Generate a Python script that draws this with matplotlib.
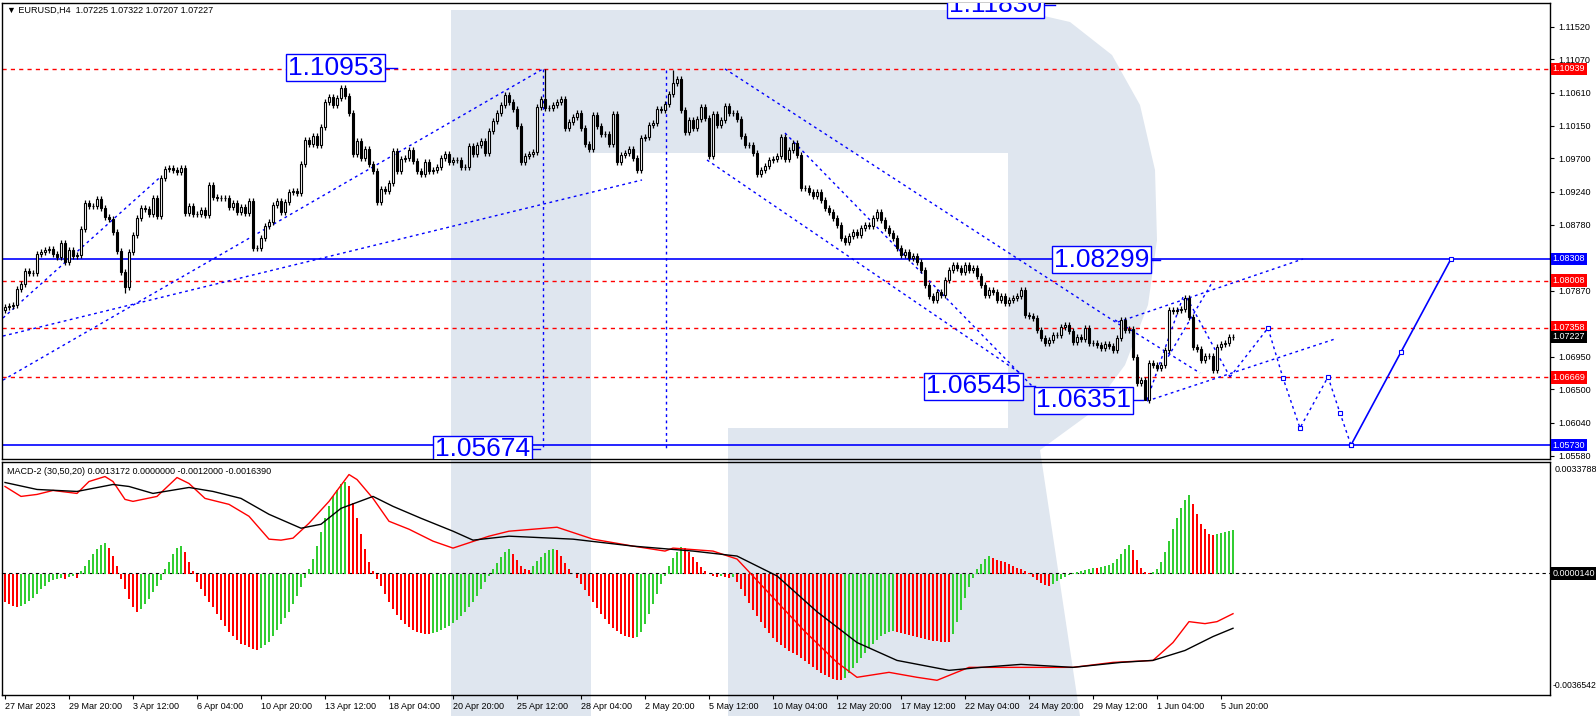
import matplotlib
matplotlib.use("Agg")
import matplotlib.pyplot as plt
from matplotlib.patches import Polygon
import numpy as np

plt.rcParams['font.family'] = ['Liberation Sans', 'DejaVu Sans']

W, H = 1596, 716

header = "\u25bc EURUSD,H4  1.07225 1.07322 1.07207 1.07227"
macd_title = "MACD-2 (30,50,20) 0.0013172 0.0000000 -0.0012000 -0.0016390"

# H4 closes
closes = [
    1.07642, 1.07656, 1.07670, 1.07891, 1.07961, 1.08141, 1.08113, 1.08113, 1.08376, 1.08404,
    1.08432, 1.08445, 1.08376, 1.08335, 1.08528, 1.08265, 1.08432, 1.08348, 1.08362, 1.08722,
    1.09082, 1.09041, 1.09041, 1.09138, 1.09013, 1.08889, 1.08861, 1.08681, 1.08418, 1.08127,
    1.07919, 1.08404, 1.08639, 1.08875, 1.09013, 1.08999, 1.08930, 1.09152, 1.08902, 1.09429,
    1.09553, 1.09567, 1.09540, 1.09512, 1.09567, 1.08944, 1.09041, 1.08930, 1.08930, 1.08986,
    1.08916, 1.09332, 1.09166, 1.09152, 1.09152, 1.09152, 1.09027, 1.09082, 1.08958, 1.09027,
    1.08944, 1.09110, 1.08459, 1.08459, 1.08598, 1.08764, 1.08819, 1.09055, 1.09110, 1.08958,
    1.09096, 1.09235, 1.09249, 1.09221, 1.09623, 1.09955, 1.09900, 1.10010, 1.09886, 1.10135,
    1.10481, 1.10551, 1.10440, 1.10537, 1.10675, 1.10564, 1.10329, 1.09761, 1.09941, 1.09706,
    1.09830, 1.09623, 1.09526, 1.09096, 1.09276, 1.09249, 1.09359, 1.09803, 1.09526, 1.09692,
    1.09706, 1.09817, 1.09664, 1.09526, 1.09484, 1.09650, 1.09526, 1.09540, 1.09581, 1.09706,
    1.09761, 1.09650, 1.09678, 1.09678, 1.09581, 1.09581, 1.09872, 1.09761, 1.09886, 1.09941,
    1.09775, 1.10080, 1.10218, 1.10329, 1.10440, 1.10578, 1.10481, 1.10384, 1.10149, 1.09650,
    1.09733, 1.09761, 1.09789, 1.10412, 1.10523, 1.10398, 1.10398, 1.10440, 1.10481, 1.10523,
    1.10121, 1.10204, 1.10274, 1.10329, 1.10121, 1.09900, 1.09830, 1.10301, 1.10149, 1.10038,
    1.10038, 1.09900, 1.10315, 1.09650, 1.09747, 1.09775, 1.09830, 1.09706, 1.09540, 1.09983,
    1.09997, 1.10163, 1.10190, 1.10384, 1.10371, 1.10454, 1.10592, 1.10744, 1.10800, 1.10371,
    1.10066, 1.10232, 1.10121, 1.10246, 1.10412, 1.10260, 1.09733, 1.10315, 1.10163, 1.10232,
    1.10426, 1.10329, 1.10329, 1.10246, 1.10010, 1.09886, 1.09886, 1.09775, 1.09484, 1.09540,
    1.09595, 1.09678, 1.09692, 1.09733, 1.09997, 1.09692, 1.09817, 1.09913, 1.09747, 1.09290,
    1.09290, 1.09235, 1.09179, 1.09235, 1.09124, 1.09013, 1.08958, 1.08875, 1.08778, 1.08598,
    1.08542, 1.08625, 1.08681, 1.08639, 1.08736, 1.08778, 1.08764, 1.08875, 1.08958, 1.08847,
    1.08736, 1.08667, 1.08598, 1.08459, 1.08362, 1.08404, 1.08321, 1.08348, 1.08265, 1.08155,
    1.07947, 1.07794, 1.07739, 1.07850, 1.07808, 1.08016, 1.08155, 1.08224, 1.08182, 1.08127,
    1.08224, 1.08155, 1.08182, 1.08071, 1.07947, 1.07808, 1.07878, 1.07850, 1.07739, 1.07794,
    1.07697, 1.07739, 1.07767, 1.07794, 1.07878, 1.07531, 1.07517, 1.07490, 1.07324, 1.07213,
    1.07143, 1.07185, 1.07254, 1.07254, 1.07365, 1.07393, 1.07310, 1.07157, 1.07227, 1.07199,
    1.07351, 1.07143, 1.07143, 1.07116, 1.07074, 1.07130, 1.07102, 1.07047, 1.07213, 1.07462,
    1.07324, 1.07337, 1.06950, 1.06589, 1.06631, 1.06354, 1.06866, 1.06839, 1.06797, 1.06839,
    1.07047, 1.07601, 1.07587, 1.07601, 1.07614, 1.07767, 1.07504, 1.07088, 1.07060, 1.06908,
    1.06963, 1.06963, 1.06770, 1.07088, 1.07130, 1.07143, 1.07227, 1.07227,
]
first_open = 1.07600
wick_hi = {84: 1.10720, 135: 1.10939, 167: 1.10925}
wick_lo = {30: 1.07840, 285: 1.06351}

# MACD histogram, units of 1e-5
hist_e5 = [
    -84, -90, -96, -99, -96, -90, -81, -72, -60, -45, -36, -24, -18, -15, -12, -15, -9, -6, -12,
    9, 24, 42, 60, 75, 87, 93, 78, 54, 24,
    -15, -45, -75, -99, -114, -105, -90, -75, -54, -36, -18,
    15, 36, 60, 78, 84, 66, 36, 9,
    -24, -45, -66, -84, -99, -120, -138, -156, -174, -186, -198, -210, -216, -222, -228, -231,
    -225, -216, -204, -186, -168, -150, -132, -114, -90, -66, -39, -12,
    15, 45, 84, 126, 168, 204, 234, 252, 270, 279, 264, 213, 168, 120, 75, 36, 9,
    -15, -36, -60, -84, -105, -123, -138, -150, -159, -168, -174, -177, -180, -180, -177, -174,
    -168, -162, -156, -147, -138, -126, -114, -99, -84, -66, -45, -24, -6,
    15, 33, 51, 66, 75, 60, 42, 24, 15, 12,
    24, 39, 51, 63, 72, 75, 72, 54, 33, 15,
    0, -12, -30, -48, -66, -84, -102, -120, -135, -150, -162, -171, -180, -186, -189, -192,
    -189, -174, -150, -120, -90, -60, -30, -6,
    24, 48, 66, 81, 78, 66, 51, 36, 21, 9, 0, -6, -9, -6, -9, -12, -9,
    -24, -45, -66, -87, -108, -126, -144, -162, -177, -192, -204, -216, -225, -234, -240, -246,
    -255, -264, -273, -282, -291, -300, -306, -312, -318, -321, -321, -315,
    -300, -285, -270, -255, -240, -225, -210, -198, -186, -180, -174, -171,
    -174, -177, -180, -183, -186, -189, -192, -195, -198, -201, -201, -204, -204, -204,
    -180, -144, -108, -72, -39, -12,
    15, 30, 45, 54, 48, 42, 39, 36, 30, 24, 18, 15, 9, 3,
    -9, -18, -27, -33, -36, -30, -21, -15,
    -9, -3, 3, 6, 9, 12, 15, 18, 18, 21, 24, 27,
    33, 45, 60, 75, 87, 72, 42, 18,
    6, 3, 6, 15,
    36, 66, 99, 135, 168, 198, 222, 237,
    210, 180, 150, 135, 120, 117,
    120, 123, 126, 129, 132,
]

# signal lines (bar index, value in 1e-5)
red_idx = [0, 4, 8, 12, 18, 21, 25, 27, 30, 32, 38, 43, 46, 50, 56, 61, 66, 69, 72, 76,
           81, 86, 88, 92, 96, 101, 107, 112, 121, 126, 138, 147, 157, 165, 167, 177, 183,
           193, 200, 208, 213, 221, 228, 233, 241, 254, 267, 277, 287, 292, 296, 300, 303, 307]
red_e5 = [264, 234, 240, 252, 243, 279, 294, 279, 225, 219, 234, 291, 273, 228, 210, 174,
          105, 102, 108, 153, 219, 300, 285, 228, 159, 135, 99, 78, 114, 129, 141, 105, 84,
          69, 78, 69, 45, -84, -174, -267, -312, -297, -312, -321, -282, -282, -282, -267,
          -261, -207, -144, -150, -144, -120]
black_idx = [0, 8, 18, 27, 31, 37, 46, 52, 59, 66, 74, 79, 84, 92, 97, 104, 112, 117, 126,
             142, 157, 172, 183, 193, 203, 213, 223, 236, 244, 254, 267, 279, 287, 295, 302, 307]
black_e5 = [276, 255, 249, 270, 264, 243, 261, 249, 228, 180, 138, 150, 198, 234, 204, 168,
            129, 102, 114, 105, 84, 69, 54, -6, -114, -207, -261, -291, -282, -273, -282,
            -267, -261, -231, -189, -164]

price_ticks = [1.11520, 1.11070, 1.10610, 1.10150, 1.09700, 1.09240, 1.08780,
               1.07870, 1.06950, 1.06500, 1.06040, 1.05580]
red_levels = [1.10939, 1.08008, 1.07358, 1.06669]
blue_levels = [1.08308, 1.05730]
last_price = 1.07227
macd_top, macd_bottom, macd_zero = 0.0033788, -0.0036542, 0.0000140

time_labels = ["27 Mar 2023", "29 Mar 20:00", "3 Apr 12:00", "6 Apr 04:00", "10 Apr 20:00",
               "13 Apr 12:00", "18 Apr 04:00", "20 Apr 20:00", "25 Apr 12:00", "28 Apr 04:00",
               "2 May 20:00", "5 May 12:00", "10 May 04:00", "12 May 20:00", "17 May 12:00",
               "22 May 04:00", "24 May 20:00", "29 May 12:00", "1 Jun 04:00", "5 Jun 20:00"]
bars_per_label = 16

# price labels drawn on the chart: text, box right edge (bar), anchor (bar), price
big_labels = [
    ("1.11830", 259.75, 262.5, 1.11830),
    ("1.10953", 95.0, 98.0, 1.10953),
    ("1.08299", 286.5, 288.75, 1.08299),
    ("1.06545", 254.5, 257.5, 1.06545),
    ("1.06351", 282.0, 284.5, 1.06351),
    ("1.05674", 131.75, 133.75, 1.05674),
]

# wave lines (bar, price)
wave_lines = [
    [(-0.5, 1.07490), (39.0, 1.09450)],
    [(-0.5, 1.06630), (134.5, 1.10939)],
    [(-0.5, 1.07240), (159.25, 1.09401)],
    [(134.5, 1.10939), (134.5, 1.05691)],
    [(165.25, 1.10925), (165.25, 1.05691)],
    [(180.0, 1.10939), (278.75, 1.07393)],
    [(175.5, 1.09678), (253.75, 1.06728)],
    [(195.0, 1.10052), (256.75, 1.06548)],
    [(278.25, 1.07434), (324.5, 1.08307)],
    [(285.5, 1.06340), (332.5, 1.07199)],
    [(277.5, 1.07462), (298.75, 1.06728)],
    [(285.5, 1.06354), (294.5, 1.07781)],
    [(295.5, 1.07767), (306.25, 1.06673)],
    [(290.0, 1.06880), (302.0, 1.08002)],
]
forecast_bar = [306.25, 315.75, 319.5, 323.75, 330.75, 333.75, 336.5]
forecast_price = [1.06673, 1.07351, 1.06659, 1.05966, 1.06673, 1.06174, 1.05730]
target_bar = [336.5, 349.0, 361.5]
target_price = [1.05730, 1.07019, 1.08308]

BLUE = "#0000ff"
RED = "#ff0000"
GREEN = "#32cd32"


def fx(px):
    return px / W


def fy(py):
    return 1 - py / H


fig = plt.figure(figsize=(W / 100, H / 100), dpi=100)
fig.patch.set_facecolor("white")

# background watermark
logo = [(451, 10), (1018, 10), (1070, 22), (1112, 55), (1140, 105), (1155, 170), (1157, 240),
        (1148, 305), (1125, 365), (1088, 415), (1040, 450), (1080, 716), (728, 716), (728, 428),
        (1008, 428), (1008, 153), (591, 153), (591, 716), (451, 716)]
fig.add_artist(Polygon([(fx(x), fy(y)) for x, y in logo], closed=True,
                       transform=fig.transFigure, facecolor="#dfe6ef", edgecolor="none",
                       zorder=-5))

ax = fig.add_axes([fx(2), fy(459), fx(1548), 456 / H])
axm = fig.add_axes([fx(2), fy(695), fx(1548), 233 / H])
for a in (ax, axm):
    a.set_facecolor("none")
    a.set_xlim(-0.75, 386.25)
    for s in a.spines.values():
        s.set_linewidth(1.0)
        s.set_color("black")

# ---- price panel ----
c = np.array(closes)
o = np.r_[first_open, c[:-1]]
hi = np.maximum(o, c) + 0.0004
lo = np.minimum(o, c) - 0.0004
for k, v in wick_hi.items():
    hi[k] = v
for k, v in wick_lo.items():
    lo[k] = v
x = np.arange(len(c))
up = c >= o

ax.vlines(x, lo, hi, color="black", lw=0.9, zorder=3)
ax.bar(x, np.abs(c - o) + 1e-6, bottom=np.minimum(o, c), width=0.68,
       color=np.where(up, "white", "black"), edgecolor="black", lw=0.8, zorder=4)

for lvl in red_levels:
    ax.axhline(lvl, color=RED, lw=1.0, ls=(0, (3, 3)), zorder=2)
for lvl in blue_levels:
    ax.axhline(lvl, color=BLUE, lw=1.2, zorder=2)

for ln in wave_lines:
    xs, ys = zip(*ln)
    ax.plot(xs, ys, color=BLUE, lw=1.0, ls=(0, (2, 2.5)), zorder=2)
ax.plot(forecast_bar, forecast_price, color=BLUE, lw=1.0, ls=(0, (2, 2.5)), zorder=2)
ax.plot(forecast_bar[1:], forecast_price[1:], ls="none", marker="s", ms=3, mfc="white",
        mec=BLUE, mew=0.8, zorder=3)
ax.plot(target_bar, target_price, color=BLUE, lw=1.2, marker="s", ms=3.5, mfc="white",
        mec=BLUE, mew=0.8, zorder=3)

for txt, xr, xa, p in big_labels:
    ax.plot([xr, xa], [p, p], color=BLUE, lw=1.0, zorder=5)
    ax.text(xr - 0.5, p, txt, ha="right", va="center", fontsize=19, color=BLUE, zorder=6,
            bbox=dict(boxstyle="square,pad=0.06", fc="white", ec=BLUE, lw=1.0), clip_on=True)

ax.set_ylim(1.05537, 1.11852)
ax.set_xticks([])
ax.yaxis.tick_right()
ax.set_yticks(price_ticks)
ax.set_yticklabels([f"{t:.5f}" for t in price_ticks])
ax.tick_params(axis="y", direction="out", length=3, pad=3, labelsize=6.5, width=0.8)

ytr = ax.get_yaxis_transform()
for lvl in red_levels:
    ax.text(1.0018, lvl, f"{lvl:.5f}", transform=ytr, ha="left", va="center", fontsize=6.5,
            color="white", zorder=10, clip_on=False,
            bbox=dict(boxstyle="square,pad=0.2", fc=RED, ec="none"))
for lvl in blue_levels:
    ax.text(1.0018, lvl, f"{lvl:.5f}", transform=ytr, ha="left", va="center", fontsize=6.5,
            color="white", zorder=10, clip_on=False,
            bbox=dict(boxstyle="square,pad=0.2", fc=BLUE, ec="none"))
ax.text(1.0018, last_price, f"{last_price:.5f}", transform=ytr, ha="left", va="center",
        fontsize=6.5, color="white", zorder=11, clip_on=False,
        bbox=dict(boxstyle="square,pad=0.2", fc="black", ec="none"))

# ---- MACD panel ----
hv = np.array(hist_e5) * 1e-5
hx = np.arange(len(hv))
rising = np.r_[False, hv[1:] > hv[:-1]]
axm.bar(hx, hv, width=0.7, color=np.where(rising, GREEN, RED), lw=0, zorder=2)
axm.plot(red_idx, np.array(red_e5) * 1e-5, color=RED, lw=1.0, zorder=3)
axm.plot(black_idx, np.array(black_e5) * 1e-5, color="black", lw=1.0, zorder=3)
axm.axhline(macd_zero, color="black", lw=0.8, ls=(0, (3, 3)), zorder=1)
axm.set_ylim(macd_bottom, macd_top)
axm.set_yticks([])

tick_pos = np.arange(len(time_labels)) * bars_per_label
axm.set_xticks(tick_pos)
axm.set_xticklabels(time_labels, ha="left")
axm.tick_params(axis="x", direction="out", length=3, pad=2, labelsize=6.5, width=0.8)

axm.text(1.003, 0.985, f"{macd_top:.7f}", transform=axm.transAxes, ha="left", va="top",
         fontsize=6.5)
axm.text(1.002, 0.02, f"{macd_bottom:.7f}", transform=axm.transAxes, ha="left", va="bottom",
         fontsize=6.2)
axm.text(1.0018, macd_zero, f"{macd_zero:.7f}", transform=axm.get_yaxis_transform(),
         ha="left", va="center", fontsize=6.5, color="white", clip_on=False,
         bbox=dict(boxstyle="square,pad=0.2", fc="black", ec="none"))

fig.text(fx(7), fy(10), header, ha="left", va="center", fontsize=6.5)
fig.text(fx(7), fy(472), macd_title, ha="left", va="center", fontsize=6.5)

fig.savefig("out.png", dpi=100)
